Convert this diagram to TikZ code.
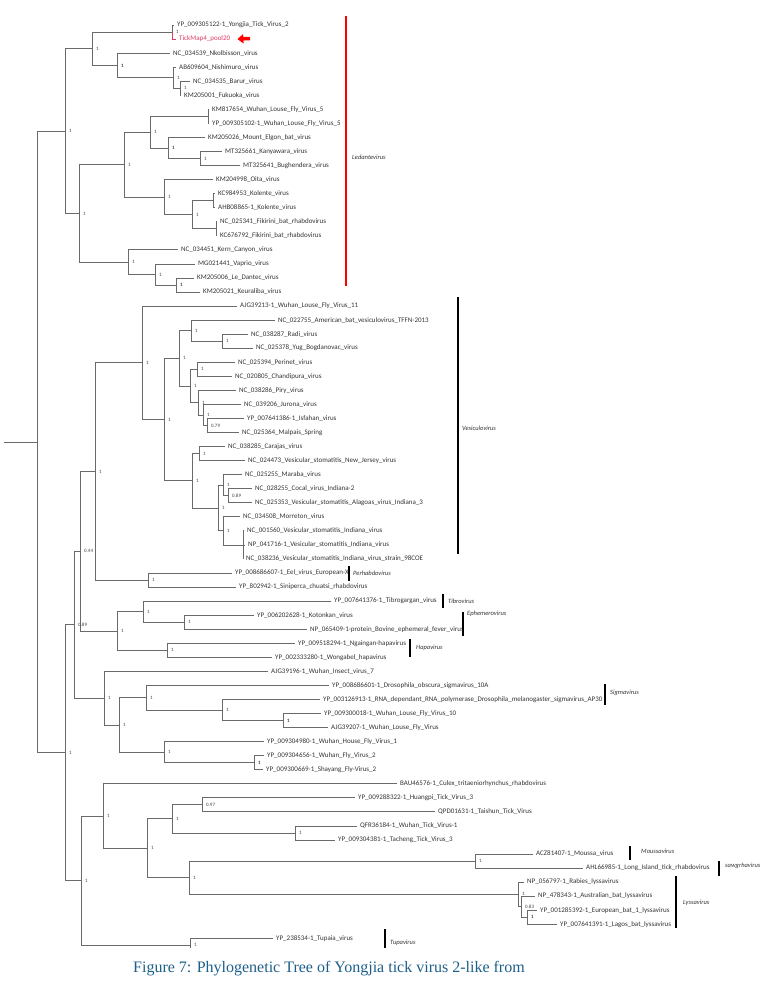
\documentclass[tikz,border=0pt]{standalone}
\usepackage{fontspec}
\setmainfont{Liberation Serif}
\newfontfamily\tipfont{Carlito}
\usepackage{tikz}
\usetikzlibrary{arrows.meta}
\definecolor{treegray}{HTML}{6A6A6A}
\definecolor{tickred}{HTML}{DC3C64}
\definecolor{capblue}{HTML}{1D5F8A}

\begin{document}
\begin{tikzpicture}[
  x=1pt, y=-1pt,
  branch/.style={draw=treegray, line width=0.7pt},
  tip/.style={anchor=west, inner xsep=3pt, inner ysep=0pt, font=\tipfont\fontsize{7}{8}\selectfont, text=black!80},
  support/.style={anchor=west, inner sep=0pt, xshift=4pt, font=\tipfont\fontsize{5}{6}\selectfont, text=black!75},
  cladebar/.style={draw=black, line width=1.2pt},
  cladename/.style={anchor=west, inner sep=0pt, font=\tipfont\itshape\fontsize{6.5}{7}\selectfont, text=black!80},
  pointer/.style={-{Triangle[length=6pt,width=9pt]}, line width=3.5pt, draw=red},
  caption/.style={anchor=west, inner sep=0pt, font=\fontsize{16}{19}\selectfont, text=capblue}
]
  \useasboundingbox (0,0) rectangle (779,997);

  % Internal nodes
  \coordinate (rootstub) at (4,441.9);
  \coordinate (root) at (37,441.9);
  \coordinate (ledante) at (65,131.1);
  \coordinate (yjclade) at (92,48.7);
  \coordinate (yjpair) at (172,32.0);
  \coordinate (nkoclade) at (117,65.4);
  \coordinate (nishclade) at (173,77.7);
  \coordinate (barpair) at (180,88.2);
  \coordinate (wuhanled) at (79,213.4);
  \coordinate (louseclade) at (124,164.6);
  \coordinate (elgonclade) at (150,132.1);
  \coordinate (lfvpair) at (208,116.3);
  \coordinate (elgonsub) at (168,147.9);
  \coordinate (kanpair) at (200,158.5);
  \coordinate (oitaclade) at (164,197.1);
  \coordinate (kolfik) at (192,214.7);
  \coordinate (kolpair) at (213,200.6);
  \coordinate (fikpair) at (216,228.7);
  \coordinate (kernclade) at (128,262.1);
  \coordinate (vapclade) at (155,274.4);
  \coordinate (dantecpair) at (176,284.9);

  \coordinate (lower) at (65,752.7);
  \coordinate (p089) at (74,624.7);
  \coordinate (p044) at (80,551.2);
  \coordinate (vesperh) at (95,471.4);
  \coordinate (vesic) at (142,362.8);
  \coordinate (vesicA) at (164,419.5);
  \coordinate (vesicB) at (179,358.3);
  \coordinate (batclade) at (191,330.6);
  \coordinate (radipair) at (222,341.1);
  \coordinate (chandi) at (190,385.9);
  \coordinate (perpair) at (197,369.2);
  \coordinate (piryclade) at (198,402.6);
  \coordinate (juronaclade) at (203,414.9);
  \coordinate (isfpair) at (207,425.4);
  \coordinate (vsvclade) at (192,480.8);
  \coordinate (carpair) at (199,453.5);
  \coordinate (vsvB) at (218,508.0);
  \coordinate (marclade) at (223,485.2);
  \coordinate (cocpair) at (228,495.7);
  \coordinate (morclade) at (223,530.8);
  \coordinate (indtrio) at (243,544.85);
  \coordinate (perhab) at (148,580.0);
  \coordinate (tibhapa) at (117,630.9);
  \coordinate (tibclade) at (143,611.6);
  \coordinate (ephpair) at (184,622.1);
  \coordinate (hapapair) at (167,650.2);
  \coordinate (sigfly) at (104,698.1);
  \coordinate (sighouse) at (119,724.9);
  \coordinate (sigclade) at (146,697.7);
  \coordinate (ap30clade) at (222,710.0);
  \coordinate (lfpair) at (283,720.5);
  \coordinate (houseclade) at (164,752.1);
  \coordinate (flypair) at (254,762.6);

  \coordinate (tickclade) at (81,880.6);
  \coordinate (culexclade) at (103,816.0);
  \coordinate (tickB) at (147,848.2);
  \coordinate (tickC) at (172,818.8);
  \coordinate (huangpair) at (202,804.8);
  \coordinate (tachpair) at (295,832.9);
  \coordinate (lyssmous) at (189,877.7);
  \coordinate (mouspair) at (475,861.0);
  \coordinate (lyssa) at (518,894.3);
  \coordinate (lyssb) at (521,906.6);
  \coordinate (lyssc) at (527,917.2);
  \coordinate (tupclade) at (190,945.3);
  \coordinate (tupcut) at (190,948);

  % Tips
  \node[tip] (yongjia) at (174,25.0) {YP\_009305122-1\_Yongjia\_Tick\_Virus\_2};
  \node[tip, text=tickred] (tickmap) at (176,39.05) {TickMap4\_pool20};
  \node[tip] (nkolbisson) at (170,53.1) {NC\_034539\_Nkolbisson\_virus};
  \node[tip] (nishimuro) at (176,67.15) {AB609604\_Nishimuro\_virus};
  \node[tip] (barur) at (190,81.2) {NC\_034535\_Barur\_virus};
  \node[tip] (fukuoka) at (181,95.25) {KM205001\_Fukuoka\_virus};
  \node[tip] (klfv) at (209,109.3) {KM817654\_Wuhan\_Louse\_Fly\_Virus\_5};
  \node[tip] (ylfv) at (209,123.35) {YP\_009305102-1\_Wuhan\_Louse\_Fly\_Virus\_5};
  \node[tip] (elgon) at (205,137.4) {KM205026\_Mount\_Elgon\_bat\_virus};
  \node[tip] (kanyawara) at (222,151.45) {MT325661\_Kanyawara\_virus};
  \node[tip] (bughendera) at (240,165.5) {MT325641\_Bughendera\_virus};
  \node[tip] (oita) at (213,179.55) {KM204998\_Oita\_virus};
  \node[tip] (kolente) at (215,193.6) {KC984953\_Kolente\_virus};
  \node[tip] (ahbkolente) at (215,207.65) {AHB08865-1\_Kolente\_virus};
  \node[tip] (fikirini) at (217,221.7) {NC\_025341\_Fikirini\_bat\_rhabdovirus};
  \node[tip] (kcfikirini) at (217,235.75) {KC676792\_Fikirini\_bat\_rhabdovirus};
  \node[tip] (kern) at (178,249.8) {NC\_034451\_Kern\_Canyon\_virus};
  \node[tip] (vaprio) at (195,263.85) {MG021441\_Vaprio\_virus};
  \node[tip] (dantec) at (194,277.9) {KM205006\_Le\_Dantec\_virus};
  \node[tip] (keuraliba) at (200,291.95) {KM205021\_Keuraliba\_virus};

  \node[tip] (wlfv11) at (237,306.0) {AJG39213-1\_Wuhan\_Louse\_Fly\_Virus\_11};
  \node[tip] (ambat) at (275,320.05) {NC\_022755\_American\_bat\_vesiculovirus\_TFFN-2013};
  \node[tip] (radi) at (248,334.1) {NC\_038287\_Radi\_virus};
  \node[tip] (yug) at (253,348.15) {NC\_025378\_Yug\_Bogdanovac\_virus};
  \node[tip] (perinet) at (235,362.2) {NC\_025394\_Perinet\_virus};
  \node[tip] (chandipura) at (232,376.25) {NC\_020805\_Chandipura\_virus};
  \node[tip] (piry) at (236,390.3) {NC\_038286\_Piry\_virus};
  \node[tip] (jurona) at (241,404.35) {NC\_039206\_Jurona\_virus};
  \node[tip] (isfahan) at (244,418.4) {YP\_007641386-1\_Isfahan\_virus};
  \node[tip] (malpais) at (239,432.45) {NC\_025364\_Malpais\_Spring};
  \node[tip] (carajas) at (225,446.5) {NC\_038285\_Carajas\_virus};
  \node[tip] (newjersey) at (245,460.55) {NC\_024473\_Vesicular\_stomatitis\_New\_Jersey\_virus};
  \node[tip] (maraba) at (242,474.6) {NC\_025255\_Maraba\_virus};
  \node[tip] (cocal) at (252,488.65) {NC\_028255\_Cocal\_virus\_Indiana-2};
  \node[tip] (alagoas) at (252,502.7) {NC\_025353\_Vesicular\_stomatitis\_Alagoas\_virus\_Indiana\_3};
  \node[tip] (morreton) at (240,516.75) {NC\_034508\_Morreton\_virus};
  \node[tip] (indiana) at (244,530.8) {NC\_001560\_Vesicular\_stomatitis\_Indiana\_virus};
  \node[tip] (npindiana) at (245,544.85) {NP\_041716-1\_Vesicular\_stomatitis\_Indiana\_virus};
  \node[tip] (indstrain) at (243,558.9) {NC\_038236\_Vesicular\_stomatitis\_Indiana\_virus\_strain\_98COE};

  \node[tip] (eel) at (232,572.95) {YP\_008686607-1\_Eel\_virus\_European-X};
  \node[tip] (siniperca) at (236,587.0) {YP\_802942-1\_Siniperca\_chuatsi\_rhabdovirus};
  \node[tip] (tibrogargan) at (331,601.05) {YP\_007641376-1\_Tibrogargan\_virus};
  \node[tip] (kotonkan) at (254,615.1) {YP\_006202628-1\_Kotonkan\_virus};
  \node[tip] (bef) at (307,629.15) {NP\_065409-1-protein\_Bovine\_ephemeral\_fever\_virus};
  \node[tip] (ngaingan) at (295,643.2) {YP\_009518294-1\_Ngaingan-hapavirus};
  \node[tip] (wongabel) at (272,657.25) {YP\_002333280-1\_Wongabel\_hapavirus};
  \node[tip] (insect7) at (268,671.3) {AJG39196-1\_Wuhan\_Insect\_virus\_7};
  \node[tip] (obscura) at (329,685.35) {YP\_008686601-1\_Drosophila\_obscura\_sigmavirus\_10A};
  \node[tip] (ap30) at (320,699.4) {YP\_003126913-1\_RNA\_dependant\_RNA\_polymerase\_Drosophila\_melanogaster\_sigmavirus\_AP30};
  \node[tip] (lfv10) at (321,713.45) {YP\_009300018-1\_Wuhan\_Louse\_Fly\_Virus\_10};
  \node[tip] (ajglfv) at (328,727.5) {AJG39207-1\_Wuhan\_Louse\_Fly\_Virus};
  \node[tip] (housefly) at (264,741.55) {YP\_009304980-1\_Wuhan\_House\_Fly\_Virus\_1};
  \node[tip] (wuhanfly) at (264,755.6) {YP\_009304656-1\_Wuhan\_Fly\_Virus\_2};
  \node[tip] (shayang) at (263,769.65) {YP\_009300669-1\_Shayang\_Fly-Virus\_2};

  \node[tip] (culex) at (397,783.7) {BAU46576-1\_Culex\_tritaeniorhynchus\_rhabdovirus};
  \node[tip] (huangpi) at (355,797.75) {YP\_009288322-1\_Huangpi\_Tick\_Virus\_3};
  \node[tip] (taishun) at (435,811.8) {QPD01631-1\_Taishun\_Tick\_Virus};
  \node[tip] (wuhantick) at (357,825.85) {QFR36184-1\_Wuhan\_Tick\_Virus-1};
  \node[tip] (tacheng) at (335,839.9) {YP\_009304381-1\_Tacheng\_Tick\_Virus\_3};
  \node[tip] (moussa) at (533,853.95) {ACZ81407-1\_Moussa\_virus};
  \node[tip] (longisland) at (583,868.0) {AHL66985-1\_Long\_Island\_tick\_rhabdovirus};
  \node[tip] (rabies) at (524,882.05) {NP\_056797-1\_Rabies\_lyssavirus};
  \node[tip] (ausbat) at (535,896.1) {NP\_478343-1\_Australian\_bat\_lyssavirus};
  \node[tip] (eurbat) at (537,910.15) {YP\_001285392-1\_European\_bat\_1\_lyssavirus};
  \node[tip] (lagos) at (557,924.2) {YP\_007641391-1\_Lagos\_bat\_lyssavirus};
  \node[tip] (tupaia) at (273,938.25) {YP\_238534-1\_Tupaia\_virus};

  % Branches
  \draw[branch] (rootstub) -- (root);
  \draw[branch] (root) |- (ledante);
  \draw[branch] (root) |- (lower);
  \draw[branch] (ledante) |- (yjclade);
  \draw[branch] (ledante) |- (wuhanled);
  \draw[branch] (yjclade) |- (yjpair);
  \draw[branch] (yjclade) |- (nkoclade);
  \draw[branch] (yjpair) |- (yongjia.west);
  \draw[branch, draw=tickred] (yjpair) |- (tickmap.west);
  \draw[branch] (nkoclade) |- (nkolbisson.west);
  \draw[branch] (nkoclade) |- (nishclade);
  \draw[branch] (nishclade) |- (nishimuro.west);
  \draw[branch] (nishclade) |- (barpair);
  \draw[branch] (barpair) |- (barur.west);
  \draw[branch] (barpair) |- (fukuoka.west);
  \draw[branch] (wuhanled) |- (louseclade);
  \draw[branch] (wuhanled) |- (kernclade);
  \draw[branch] (louseclade) |- (elgonclade);
  \draw[branch] (louseclade) |- (oitaclade);
  \draw[branch] (elgonclade) |- (lfvpair);
  \draw[branch] (elgonclade) |- (elgonsub);
  \draw[branch] (lfvpair) |- (klfv.west);
  \draw[branch] (lfvpair) |- (ylfv.west);
  \draw[branch] (elgonsub) |- (elgon.west);
  \draw[branch] (elgonsub) |- (kanpair);
  \draw[branch] (kanpair) |- (kanyawara.west);
  \draw[branch] (kanpair) |- (bughendera.west);
  \draw[branch] (oitaclade) |- (oita.west);
  \draw[branch] (oitaclade) |- (kolfik);
  \draw[branch] (kolfik) |- (kolpair);
  \draw[branch] (kolfik) |- (fikpair);
  \draw[branch] (kolpair) |- (kolente.west);
  \draw[branch] (kolpair) |- (ahbkolente.west);
  \draw[branch] (fikpair) |- (fikirini.west);
  \draw[branch] (fikpair) |- (kcfikirini.west);
  \draw[branch] (kernclade) |- (kern.west);
  \draw[branch] (kernclade) |- (vapclade);
  \draw[branch] (vapclade) |- (vaprio.west);
  \draw[branch] (vapclade) |- (dantecpair);
  \draw[branch] (dantecpair) |- (dantec.west);
  \draw[branch] (dantecpair) |- (keuraliba.west);

  \draw[branch] (lower) |- (p089);
  \draw[branch] (lower) |- (tickclade);
  \draw[branch] (p089) |- (p044);
  \draw[branch] (p089) |- (sigfly);
  \draw[branch] (p044) |- (vesperh);
  \draw[branch] (p044) |- (tibhapa);
  \draw[branch] (vesperh) |- (vesic);
  \draw[branch] (vesperh) |- (perhab);
  \draw[branch] (vesic) |- (wlfv11.west);
  \draw[branch] (vesic) |- (vesicA);
  \draw[branch] (vesicA) |- (vesicB);
  \draw[branch] (vesicA) |- (vsvclade);
  \draw[branch] (vesicB) |- (batclade);
  \draw[branch] (vesicB) |- (chandi);
  \draw[branch] (batclade) |- (ambat.west);
  \draw[branch] (batclade) |- (radipair);
  \draw[branch] (radipair) |- (radi.west);
  \draw[branch] (radipair) |- (yug.west);
  \draw[branch] (chandi) |- (perpair);
  \draw[branch] (chandi) |- (piryclade);
  \draw[branch] (perpair) |- (perinet.west);
  \draw[branch] (perpair) |- (chandipura.west);
  \draw[branch] (piryclade) |- (piry.west);
  \draw[branch] (piryclade) |- (juronaclade);
  \draw[branch] (juronaclade) |- (jurona.west);
  \draw[branch] (juronaclade) |- (isfpair);
  \draw[branch] (isfpair) |- (isfahan.west);
  \draw[branch] (isfpair) |- (malpais.west);
  \draw[branch] (vsvclade) |- (carpair);
  \draw[branch] (vsvclade) |- (vsvB);
  \draw[branch] (carpair) |- (carajas.west);
  \draw[branch] (carpair) |- (newjersey.west);
  \draw[branch] (vsvB) |- (marclade);
  \draw[branch] (vsvB) |- (morclade);
  \draw[branch] (marclade) |- (maraba.west);
  \draw[branch] (marclade) |- (cocpair);
  \draw[branch] (cocpair) |- (cocal.west);
  \draw[branch] (cocpair) |- (alagoas.west);
  \draw[branch] (morclade) |- (morreton.west);
  \draw[branch] (morclade) |- (indtrio);
  \draw[branch] (indtrio) |- (indiana.west);
  \draw[branch] (indtrio) |- (npindiana.west);
  \draw[branch] (indtrio) |- (indstrain.west);
  \draw[branch] (perhab) |- (eel.west);
  \draw[branch] (perhab) |- (siniperca.west);
  \draw[branch] (tibhapa) |- (tibclade);
  \draw[branch] (tibhapa) |- (hapapair);
  \draw[branch] (tibclade) |- (tibrogargan.west);
  \draw[branch] (tibclade) |- (ephpair);
  \draw[branch] (ephpair) |- (kotonkan.west);
  \draw[branch] (ephpair) |- (bef.west);
  \draw[branch] (hapapair) |- (ngaingan.west);
  \draw[branch] (hapapair) |- (wongabel.west);
  \draw[branch] (sigfly) |- (insect7.west);
  \draw[branch] (sigfly) |- (sighouse);
  \draw[branch] (sighouse) |- (sigclade);
  \draw[branch] (sighouse) |- (houseclade);
  \draw[branch] (sigclade) |- (obscura.west);
  \draw[branch] (sigclade) |- (ap30clade);
  \draw[branch] (ap30clade) |- (ap30.west);
  \draw[branch] (ap30clade) |- (lfpair);
  \draw[branch] (lfpair) |- (lfv10.west);
  \draw[branch] (lfpair) |- (ajglfv.west);
  \draw[branch] (houseclade) |- (housefly.west);
  \draw[branch] (houseclade) |- (flypair);
  \draw[branch] (flypair) |- (wuhanfly.west);
  \draw[branch] (flypair) |- (shayang.west);

  \draw[branch] (tickclade) |- (culexclade);
  \draw[branch] (tickclade) |- (tupclade);
  \draw[branch] (culexclade) |- (culex.west);
  \draw[branch] (culexclade) |- (tickB);
  \draw[branch] (tickB) |- (tickC);
  \draw[branch] (tickB) |- (lyssmous);
  \draw[branch] (tickC) |- (huangpair);
  \draw[branch] (tickC) |- (tachpair);
  \draw[branch] (huangpair) |- (huangpi.west);
  \draw[branch] (huangpair) |- (taishun.west);
  \draw[branch] (tachpair) |- (wuhantick.west);
  \draw[branch] (tachpair) |- (tacheng.west);
  \draw[branch] (lyssmous) |- (mouspair);
  \draw[branch] (lyssmous) |- (lyssa);
  \draw[branch] (mouspair) |- (moussa.west);
  \draw[branch] (mouspair) |- (longisland.west);
  \draw[branch] (lyssa) |- (rabies.west);
  \draw[branch] (lyssa) |- (lyssb);
  \draw[branch] (lyssb) |- (ausbat.west);
  \draw[branch] (lyssb) |- (lyssc);
  \draw[branch] (lyssc) |- (eurbat.west);
  \draw[branch] (lyssc) |- (lagos.west);
  \draw[branch] (tupcut) |- (tupaia.west);

  % Support values
  \node[support] (s-ledante) at (ledante) {1};
  \node[support] (s-yjclade) at (yjclade) {1};
  \node[support] (s-yjpair) at (yjpair) {1};
  \node[support] (s-nkoclade) at (nkoclade) {\bfseries 1};
  \node[support] (s-nishclade) at (nishclade) {1};
  \node[support] (s-barpair) at (barpair) {1};
  \node[support] (s-wuhanled) at (wuhanled) {1};
  \node[support] (s-louseclade) at (louseclade) {1};
  \node[support] (s-elgonclade) at (elgonclade) {1};
  \node[support] (s-elgonsub) at (elgonsub) {\bfseries 1};
  \node[support] (s-kanpair) at (kanpair) {1};
  \node[support] (s-oitaclade) at (oitaclade) {1};
  \node[support] (s-kolfik) at (kolfik) {1};
  \node[support] (s-kernclade) at (kernclade) {1};
  \node[support] (s-vapclade) at (vapclade) {1};
  \node[support] (s-dantecpair) at (dantecpair) {\bfseries 1};
  \node[support] (s-p089) at (p089) {0.89};
  \node[support] (s-p044) at (p044) {0.44};
  \node[support] (s-vesperh) at (vesperh) {1};
  \node[support] (s-vesic) at (vesic) {1};
  \node[support] (s-vesicA) at (vesicA) {1};
  \node[support] (s-vesicB) at (vesicB) {1};
  \node[support] (s-batclade) at (batclade) {1};
  \node[support] (s-radipair) at (radipair) {1};
  \node[support] (s-chandi) at (chandi) {1};
  \node[support] (s-perpair) at (perpair) {1};
  \node[support] (s-piryclade) at (piryclade) {1};
  \node[support] (s-juronaclade) at (juronaclade) {1};
  \node[support] (s-isfpair) at (isfpair) {0.79};
  \node[support] (s-vsvclade) at (vsvclade) {1};
  \node[support] (s-carpair) at (carpair) {1};
  \node[support] (s-vsvB) at (vsvB) {1};
  \node[support] (s-marclade) at (marclade) {1};
  \node[support] (s-cocpair) at (cocpair) {0.89};
  \node[support] (s-morclade) at (morclade) {1};
  \node[support] (s-perhab) at (perhab) {1};
  \node[support] (s-tibhapa) at (tibhapa) {1};
  \node[support] (s-tibclade) at (tibclade) {1};
  \node[support] (s-ephpair) at (ephpair) {1};
  \node[support] (s-hapapair) at (hapapair) {1};
  \node[support] (s-sigfly) at (sigfly) {1};
  \node[support] (s-sighouse) at (sighouse) {1};
  \node[support] (s-sigclade) at (sigclade) {1};
  \node[support] (s-ap30clade) at (ap30clade) {1};
  \node[support] (s-lfpair) at (lfpair) {\bfseries 1};
  \node[support] (s-houseclade) at (houseclade) {1};
  \node[support] (s-flypair) at (flypair) {\bfseries 1};
  \node[support] (s-lower) at (lower) {1};
  \node[support] (s-tickclade) at (tickclade) {1};
  \node[support] (s-culexclade) at (culexclade) {1};
  \node[support] (s-tickB) at (tickB) {1};
  \node[support] (s-tickC) at (tickC) {1};
  \node[support] (s-huangpair) at (huangpair) {0.97};
  \node[support] (s-tachpair) at (tachpair) {1};
  \node[support] (s-lyssmous) at (lyssmous) {1};
  \node[support] (s-mouspair) at (mouspair) {1};
  \node[support] (s-lyssa) at (lyssa) {1};
  \node[support] (s-lyssb) at (lyssb) {0.83};
  \node[support] (s-lyssc) at (lyssc) {\bfseries 1};
  \node[support] (s-tupclade) at (tupclade) {1};

  % Genus bars
  \coordinate (ledtop) at (346,16);
  \coordinate (ledbot) at (346,286);
  \draw[cladebar, draw=red] (ledtop) -- (ledbot);
  \node[cladename] (ledname) at (352,157) {Ledantevirus};
  \coordinate (vestop) at (458,297);
  \coordinate (vesbot) at (458,554);
  \draw[cladebar] (vestop) -- (vesbot);
  \node[cladename] (vesname) at (462,428) {Vesiculovirus};
  \coordinate (pertop) at (349,566);
  \coordinate (perbot) at (349,581);
  \draw[cladebar] (pertop) -- (perbot);
  \node[cladename] (pername) at (353,573) {Perhabdovirus};
  \coordinate (tibtop) at (443,594);
  \coordinate (tibbot) at (443,608);
  \draw[cladebar] (tibtop) -- (tibbot);
  \node[cladename] (tibname) at (448,601) {Tibrovirus};
  \coordinate (ephtop) at (463,612);
  \coordinate (ephbot) at (463,636);
  \draw[cladebar] (ephtop) -- (ephbot);
  \node[cladename] (ephname) at (467,614) {Ephemerovirus};
  \coordinate (haptop) at (410,639);
  \coordinate (hapbot) at (410,657);
  \draw[cladebar] (haptop) -- (hapbot);
  \node[cladename] (hapname) at (416,648) {Hapavirus};
  \coordinate (sigtop) at (605,684);
  \coordinate (sigbot) at (605,705);
  \draw[cladebar] (sigtop) -- (sigbot);
  \node[cladename] (signame) at (610,693) {Sigmavirus};
  \coordinate (moutop) at (630,846);
  \coordinate (moubot) at (630,860);
  \draw[cladebar] (moutop) -- (moubot);
  \node[cladename] (mouname) at (641,851) {Moussavirus};
  \coordinate (sawtop) at (719,861);
  \coordinate (sawbot) at (719,876);
  \draw[cladebar] (sawtop) -- (sawbot);
  \node[cladename] (sawname) at (725,866) {sawgrhavirus};
  \coordinate (lystop) at (676,876);
  \coordinate (lysbot) at (676,928);
  \draw[cladebar] (lystop) -- (lysbot);
  \node[cladename] (lysname) at (683,903) {Lyssavirus};
  \coordinate (tuptop) at (385,929);
  \coordinate (tupbot) at (385,948);
  \draw[cladebar] (tuptop) -- (tupbot);
  \node[cladename] (tupname) at (390,943) {Tupavirus};

  % Pointer to the new sequence
  \coordinate (arrowtail) at (250,38.5);
  \draw[pointer] (arrowtail) -- ([xshift=4pt]tickmap.east);

  % Caption
  \node[caption] (cap) at (133,969) {Figure 7: Phylogenetic Tree of Yongjia tick virus 2-like from};
\end{tikzpicture}
\end{document}
